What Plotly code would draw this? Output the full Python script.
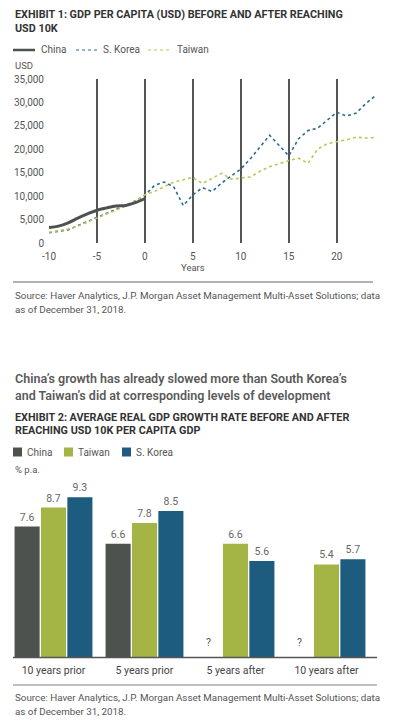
import plotly.graph_objects as go

# ---------------- Data ----------------
years = list(range(-10, 25))
china_years = list(range(-10, 1))
china_gdp = [3300, 3600, 4300, 5300, 6200, 7000, 7500, 7900, 8000, 8600, 9500]
korea_gdp = [2200, 2500, 2800, 3700, 4600, 5400, 6300, 7200, 8000, 9000, 10200,
             12300, 13000, 12000, 8000, 10300, 11800, 11000, 12800, 14300, 15800,
             18000, 20500, 23000, 20800, 18600, 22200, 24000, 24500, 26200, 27900,
             27100, 27700, 29700, 31400]
taiwan_gdp = [2300, 2600, 3000, 3600, 4500, 5300, 6200, 7000, 7900, 9000, 10300,
              11000, 12000, 13000, 13500, 14000, 12700, 13800, 14900, 13600, 13800,
              14100, 15300, 16300, 16900, 17600, 18100, 17000, 20000, 21200, 21600,
              22000, 22600, 22400, 22500]
year_ticks = [-10, -5, 0, 5, 10, 15, 20]
year_tick_labels = ["-10", "-5", "0", "5", "10", "15", "20"]

periods = ["10 years prior", "5 years prior", "5 years after", "10 years after"]
china_growth = [7.6, 6.6, None, None]
taiwan_growth = [8.7, 7.8, 6.6, 5.4]
korea_growth = [9.3, 8.5, 5.6, 5.7]

# The page body has an 8px default margin: figure is sized/offset to compensate
OFF = 8
W, H = 399 - OFF, 727 - 2 * OFF
FONT = "Roboto"
C_CHINA = "#4e524e"
C_TW = "#a5b545"
C_KR = "#1d5c7e"
L_KR = "#2f6b8c"
L_TW = "#bcc85c"


def px(x):
    return (x - OFF) / W


def py(y):
    return 1 - (y - OFF) / H


fig = go.Figure()

# ---------------- Exhibit 1: lines ----------------
fig.add_trace(go.Scatter(x=years, y=korea_gdp, mode="lines", name="S. Korea",
                         line=dict(color=L_KR, width=1.6, dash="dot"),
                         xaxis="x", yaxis="y", showlegend=False))
fig.add_trace(go.Scatter(x=years, y=taiwan_gdp, mode="lines", name="Taiwan",
                         line=dict(color=L_TW, width=1.6, dash="dot"),
                         xaxis="x", yaxis="y", showlegend=False))
fig.add_trace(go.Scatter(x=china_years, y=china_gdp, mode="lines", name="China",
                         line=dict(color=C_CHINA, width=3, shape="spline"),
                         xaxis="x", yaxis="y", showlegend=False))

# ---------------- Exhibit 2: bars ----------------
def lbl(vals):
    return ["" if v is None else f"{v:.1f}" for v in vals]

for name, vals, col in [("China", china_growth, C_CHINA),
                        ("Taiwan", taiwan_growth, C_TW),
                        ("S. Korea", korea_growth, C_KR)]:
    fig.add_trace(go.Bar(x=periods, y=vals, name=name, marker=dict(color=col, line=dict(width=0)),
                         text=lbl(vals), textposition="outside", cliponaxis=False,
                         textfont=dict(family=FONT, size=10.5, color="#666666"),
                         xaxis="x2", yaxis="y2", showlegend=False))

annotations = []
shapes = []


def text(x, y, s, size=10, color="#555555", bold=False, xanchor="left", weight=None):
    annotations.append(dict(x=px(x), y=py(y), xref="paper", yref="paper", text=s,
                            showarrow=False, xanchor=xanchor, yanchor="middle",
                            font=dict(family=FONT, size=size, color=color,
                                      weight=weight if weight else ("bold" if bold else "normal"))))


# Titles & texts
text(13, 15, "EXHIBIT 1: GDP PER CAPITA (USD) BEFORE AND AFTER REACHING", 10.8, "#333333", bold=True)
text(13, 29, "USD 10K", 10.8, "#333333", bold=True)

# legend 1
for x0, x1, col, dash, w, lab, tx in [(13, 35, C_CHINA, "solid", 2.5, "China", 39),
                                        (76, 97, L_KR, "dot", 1.2, "S. Korea", 101),
                                        (148, 170, L_TW, "dot", 1.2, "Taiwan", 175)]:
    shapes.append(dict(type="line", xref="paper", yref="paper", x0=px(x0), x1=px(x1),
                       y0=py(50), y1=py(50), line=dict(color=col, width=w, dash=dash)))
    text(tx, 50, lab, 10, "#555555")

text(13, 65, "USD", 9.5, "#555555")
annotations.append(dict(x=5, y=py(267), xref="x", yref="paper", text="Years", showarrow=False,
                        xanchor="center", yanchor="middle",
                        font=dict(family=FONT, size=9.5, color="#555555")))

shapes.append(dict(type="line", xref="paper", yref="paper", x0=px(13), x1=px(373),
                   y0=py(282), y1=py(282), line=dict(color="#999999", width=1.5)))
text(13, 295, "Source: Haver Analytics, J.P. Morgan Asset Management Multi-Asset Solutions; data", 9.8, "#555555")
text(13, 309, "as of December 31, 2018.", 9.8, "#555555")

text(13, 378, "China’s growth has already slowed more than South Korea’s", 12.5, "#5a5a5a", weight=600)
text(13, 396, "and Taiwan’s did at corresponding levels of development", 12.5, "#5a5a5a", weight=600)

text(13, 417, "EXHIBIT 2: AVERAGE REAL GDP GROWTH RATE BEFORE AND AFTER", 10.8, "#333333", bold=True)
text(13, 431, "REACHING USD 10K PER CAPITA GDP", 10.8, "#333333", bold=True)

for x0, col, lab in [(13, C_CHINA, "China"), (64, C_TW, "Taiwan"), (122, C_KR, "S. Korea")]:
    shapes.append(dict(type="rect", xref="paper", yref="paper", x0=px(x0), x1=px(x0 + 9),
                       y0=py(456.5), y1=py(447.5), fillcolor=col, line=dict(width=0)))
    text(x0 + 12, 452, lab, 10, "#555555")

text(13, 470, "% p.a.", 9.5, "#555555")

# question marks for missing China data
for cat in periods[2:]:
    annotations.append(dict(x=cat, y=0.85, xref="x2", yref="y2", text="?", showarrow=False,
                            xshift=-27, yanchor="middle",
                            font=dict(family=FONT, size=10.5, color="#555555")))

shapes.append(dict(type="line", xref="paper", yref="paper", x0=px(13), x1=px(377),
                   y0=py(657.5), y1=py(657.5), line=dict(color="#555555", width=1.5)))
shapes.append(dict(type="line", xref="paper", yref="paper", x0=px(13), x1=px(377),
                   y0=py(685), y1=py(685), line=dict(color="#aaaaaa", width=1.5)))
text(13, 697, "Source: Haver Analytics, J.P. Morgan Asset Management Multi-Asset Solutions; data", 9.8, "#555555")
text(13, 711, "as of December 31, 2018.", 9.8, "#555555")

fig.update_layout(
    width=W, height=H,
    margin=dict(l=0, r=0, t=0, b=0),
    paper_bgcolor="white", plot_bgcolor="white",
    font=dict(family=FONT, color="#555555"),
    barmode="group", bargap=0.13, bargroupgap=0.05,
    xaxis=dict(domain=[px(49), px(378)], range=[-10, 24.3], tickmode="array",
               tickvals=year_ticks, ticktext=year_tick_labels, ticklabelstandoff=6,
               showgrid=True, gridcolor="#555555", gridwidth=1.5, zeroline=False, showline=False,
               ticks="", tickfont=dict(size=10, color="#555555"), automargin=False, fixedrange=True),
    yaxis=dict(domain=[py(243), py(79)], range=[0, 35000], dtick=5000, tickformat=",",
               showgrid=False, zeroline=False, showline=False, ticks="", ticklabelstandoff=4,
               tickfont=dict(size=10, color="#555555"), automargin=False, anchor="x"),
    xaxis2=dict(domain=[px(8), px(372)], anchor="y2", showgrid=False, zeroline=False,
                showline=False, ticks="", ticklabelstandoff=5,
                tickfont=dict(size=10.5, color="#444444"), automargin=False),
    yaxis2=dict(domain=[py(657.5), py(480)], range=[0, 10.3], anchor="x2", visible=False),
    annotations=annotations,
    shapes=shapes,
)

fig.write_html("out.html")
